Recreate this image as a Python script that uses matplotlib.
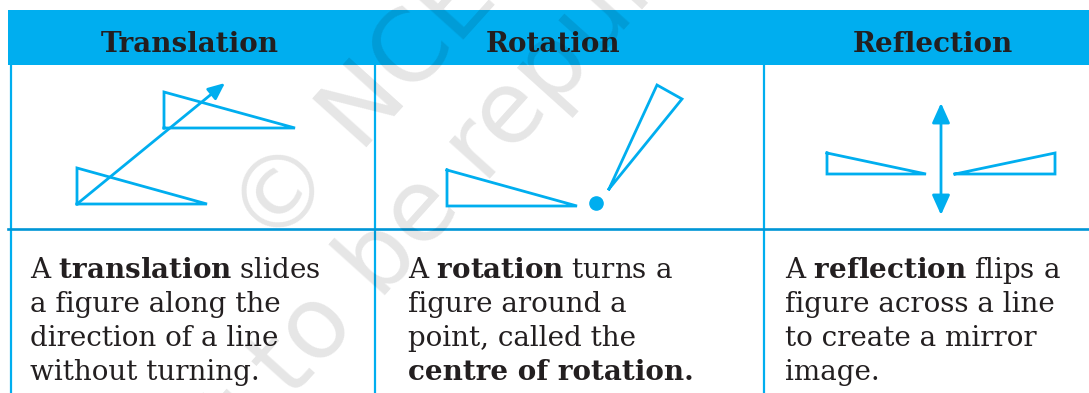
import matplotlib
matplotlib.use("Agg")
import matplotlib.pyplot as plt

plt.rcParams['mathtext.fontset'] = 'dejavuserif'

W, H = 1089, 393
blue = '#00aeef'
blue_dark = '#0096d6'
ink = '#231f20'

# column headings and their centres (pixel space of the original)
headers = ['Translation', 'Rotation', 'Reflection']
header_x = [190, 553, 933]

# description text, one list of lines per column
body_lines = [
    [r'A $\mathbf{translation}$ slides', 'a figure along the',
     'direction of a line', 'without turning.'],
    [r'A $\mathbf{rotation}$ turns a', 'figure around a',
     'point, called the', 'centre of rotation.'],
    [r'A $\mathbf{reflection}$ flips a', 'figure across a line',
     'to create a mirror', 'image.'],
]
body_x = [30, 408, 785]
baseline_y = [278, 312, 346, 380]

# figures drawn in each cell
trans_tri_low = [(77, 204), (77, 168), (207, 204)]
trans_tri_up = [(164, 128), (164, 92), (295, 128)]
trans_arrow = [(77, 204), (225, 83)]

rot_tri = [(447, 170), (447, 206), (577, 206)]
rot_tri_turned = [(609, 189), (657, 85), (682, 99)]
rot_centre = (596, 203)

refl_left = [(827, 153), (827, 174), (926, 174)]
refl_right = [(955, 174), (1055, 153), (1055, 174)]
refl_axis = [(941, 103), (941, 215)]

# table grid
col_lines = [11, 375, 764]
row_line = 229
header_top, header_bottom = 10, 65

# watermark lines: text, start of baseline
watermark = ['\u00a9 NCERT', 'not to be republished']
watermark_xy = [(272, 252), (160, 545)]

fig = plt.figure(figsize=(W / 100, H / 100), dpi=100)
ax = fig.add_axes([0, 0, 1, 1])
ax.set_xlim(0, W)
ax.set_ylim(H, 0)
ax.axis('off')

ax.fill_between([8, W], header_top, header_bottom, color=blue, lw=0)
for x in col_lines:
    ax.plot([x, x], [header_bottom, H], color=blue, lw=1.6)
ax.plot([8, W], [row_line, row_line], color=blue_dark, lw=1.9)

for name, x in zip(headers, header_x):
    ax.text(x, 52, name, ha='center', va='baseline',
            fontsize=20, fontweight='bold', family='DejaVu Serif', color=ink)

for lines, x in zip(body_lines, body_x):
    for text, y in zip(lines, baseline_y):
        bold = text == 'centre of rotation.'
        ax.text(x, y, text, ha='left', va='baseline', fontsize=20,
                family='DejaVu Serif', fontweight='bold' if bold else 'normal',
                color=ink)


def tri(pts):
    xs = [p[0] for p in pts] + [pts[0][0]]
    ys = [p[1] for p in pts] + [pts[0][1]]
    ax.plot(xs, ys, color=blue, lw=2, solid_joinstyle='miter')


for t in [trans_tri_low, trans_tri_up, rot_tri, rot_tri_turned, refl_left, refl_right]:
    tri(t)

ax.annotate('', xy=trans_arrow[1], xytext=trans_arrow[0],
            arrowprops=dict(arrowstyle='-|>,head_length=0.5,head_width=0.22', color=blue,
                            lw=2, shrinkA=0, shrinkB=0, mutation_scale=20))
ax.annotate('', xy=refl_axis[1], xytext=refl_axis[0],
            arrowprops=dict(arrowstyle='<|-|>,head_length=0.6,head_width=0.27', color=blue,
                            lw=2, shrinkA=0, shrinkB=0, mutation_scale=20))
ax.plot(*rot_centre, 'o', color=blue, markersize=9.5)

# faint watermark across the table
for text, (x, y) in zip(watermark, watermark_xy):
    ax.text(x, y, text, rotation=48, rotation_mode='anchor', ha='left', va='baseline',
            fontsize=72, color='black', alpha=0.1, family='DejaVu Sans')

fig.savefig('out.png', dpi=100)
